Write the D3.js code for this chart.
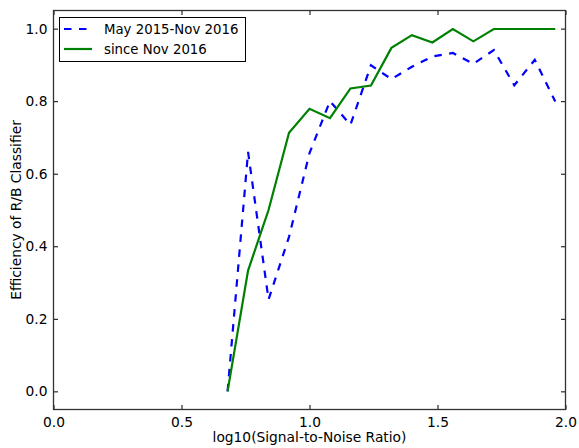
<!DOCTYPE html>
<html>
<head>
<meta charset="utf-8">
<script src="https://cdn.jsdelivr.net/npm/d3@7"></script>
<style>
html,body{margin:0;padding:0;background:#fff;}
svg{display:block;font-family:"DejaVu Sans",sans-serif;}
</style>
</head>
<body>
<svg id="chart" width="579" height="448"></svg>
<script>
// log10(SNR) bin centres
const snrBins = [0.68,0.76,0.84,0.92,1.00,1.08,1.16,1.24,1.32,1.40,1.48,1.56,1.64,1.72,1.80,1.88,1.96];
const effOld = [0.0,0.66,0.253,0.426,0.657,0.80,0.735,0.899,0.861,0.895,0.923,0.933,0.903,0.941,0.844,0.914,0.799];
const effNew = [0.0,0.333,0.50,0.713,0.779,0.753,0.835,0.843,0.947,0.982,0.962,0.999,0.965,0.999,0.999,0.999,0.999];
const seriesNames = ["May 2015-Nov 2016","since Nov 2016"];
const xTicks = [0.0,0.5,1.0,1.5,2.0];
const yTicks = [0.0,0.2,0.4,0.6,0.8,1.0];

const FS = 13.8, LFS = 13.3;
const svg = d3.select("#chart");
const L = 53.5, R = 565.5, T = 10.5, B = 409.5;
const x = d3.scaleLinear().domain([0,2]).range([L,R]);
const y = d3.scaleLinear().domain([-0.05,1.05]).range([B,T]);
const fmt = d3.format(".1f");
const tickLen = 4.5;

// axes with inward ticks on all sides
const gB = svg.append("g").attr("transform",`translate(0,${B})`)
  .call(d3.axisBottom(x).tickValues(xTicks).tickFormat(fmt).tickSizeInner(-tickLen).tickSizeOuter(0).tickPadding(8));
const gT = svg.append("g").attr("transform",`translate(0,${T})`)
  .call(d3.axisTop(x).tickValues(xTicks).tickFormat("").tickSizeInner(-tickLen).tickSizeOuter(0));
const gL = svg.append("g").attr("transform",`translate(${L},0)`)
  .call(d3.axisLeft(y).tickValues(yTicks).tickFormat(fmt).tickSizeInner(-tickLen).tickSizeOuter(0).tickPadding(6));
const gR = svg.append("g").attr("transform",`translate(${R},0)`)
  .call(d3.axisRight(y).tickValues(yTicks).tickFormat("").tickSizeInner(-tickLen).tickSizeOuter(0));
[gB,gT,gL,gR].forEach(g=>{
  g.select(".domain").remove();
  g.selectAll(".tick line").attr("stroke","#000").attr("stroke-width",1);
  g.selectAll("text").attr("font-size",FS).attr("fill","#000").attr("font-family","DejaVu Sans");
});
// frame
svg.append("rect").attr("x",L).attr("y",T).attr("width",R-L).attr("height",B-T)
  .attr("fill","none").attr("stroke","#333").attr("stroke-width",1.3);

// lines
const lineGen = d3.line().x((d,i)=>x(snrBins[i])).y(d=>y(d));
svg.append("path").datum(effOld).attr("d",lineGen)
  .attr("fill","none").attr("stroke","#0000ff").attr("stroke-width",2.2)
  .attr("stroke-dasharray","7.5,7.5");
svg.append("path").datum(effNew).attr("d",lineGen)
  .attr("fill","none").attr("stroke","#008000").attr("stroke-width",2.2);

// axis labels
svg.append("text").attr("x",(L+R)/2).attr("y",442).attr("text-anchor","middle")
  .attr("font-size",FS).text("log10(Signal-to-Noise Ratio)");
svg.append("text").attr("transform",`translate(20.5,${(T+B)/2}) rotate(-90)`)
  .attr("text-anchor","middle").attr("font-size",FS).text("Efficiency of R/B Classifier");

// legend
const lg = svg.append("g");
lg.append("rect").attr("x",59.5).attr("y",17.5).attr("width",186).attr("height",44)
  .attr("fill","#fff").attr("stroke","#000").attr("stroke-width",1);
const styles = [{c:"#0000ff",d:"7.5,7.5"},{c:"#008000",d:null}];
seriesNames.forEach((n,i)=>{
  const yy = 29 + i*20;
  const ln = lg.append("line").attr("x1",64).attr("x2",92).attr("y1",yy).attr("y2",yy)
    .attr("stroke",styles[i].c).attr("stroke-width",2.2);
  if(styles[i].d) ln.attr("stroke-dasharray",styles[i].d);
  lg.append("text").attr("x",104).attr("y",yy+5).attr("font-size",LFS).text(n);
});
</script>
</body>
</html>
